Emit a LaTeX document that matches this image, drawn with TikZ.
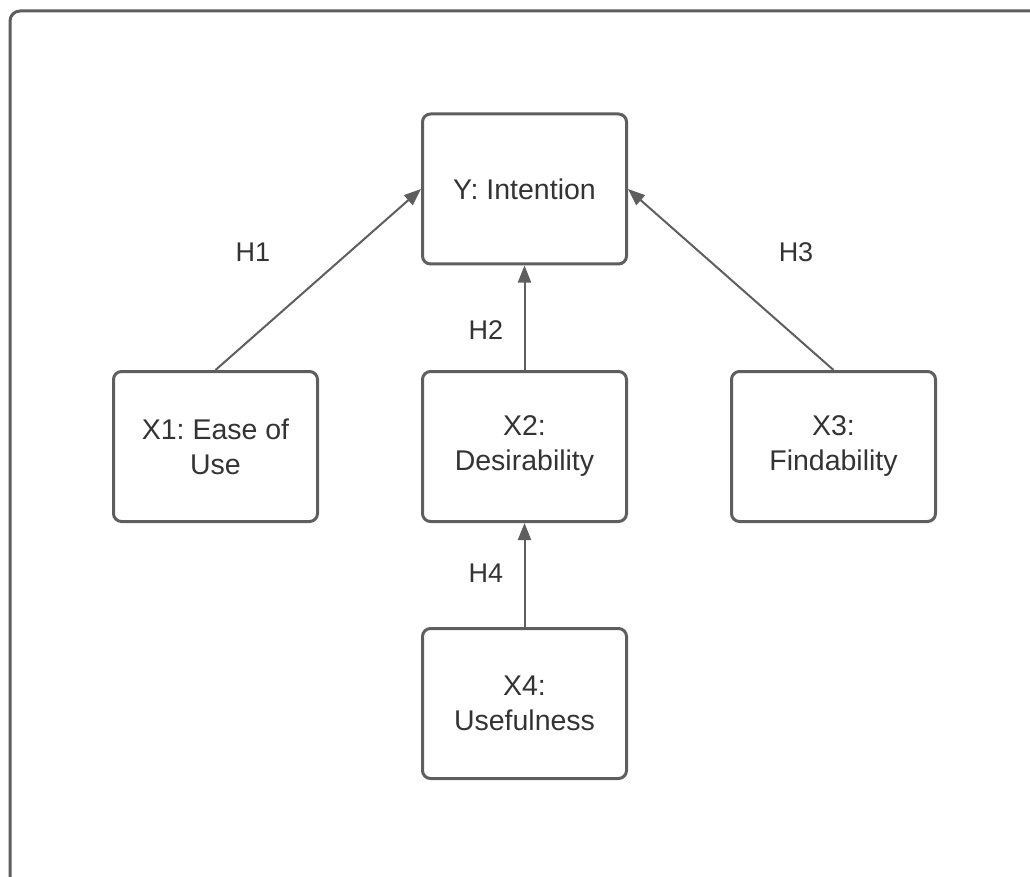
\documentclass[tikz,border=0pt]{standalone}
\usepackage{fontspec}
\setmainfont{Liberation Sans}
\usetikzlibrary{arrows.meta}
\frenchspacing
\definecolor{linegray}{HTML}{5E5E5E}
\definecolor{textgray}{HTML}{333333}
\tikzstyle{factor}=[draw=linegray,line width=3pt,rounded corners=8pt,
                    minimum width=204pt,minimum height=150pt,align=center,
                    text=textgray,font=\fontsize{28.5}{35}\selectfont]
\tikzstyle{hyp}=[text=textgray,font=\fontsize{27}{32}\selectfont]
\tikzstyle{link}=[draw=linegray,line width=2pt,-{Triangle[length=17pt,width=13pt]}]

\begin{document}
\begin{tikzpicture}[x=1pt,y=-1pt]
  \clip (0,0) rectangle (1030,877);
  \draw[linegray,line width=3pt,rounded corners=10pt] (10,1000) -- (10,11) -- (1100,11);

  \node[factor] (y)  at (524.5,189)   {Y: Intention};
  \node[factor] (x1) at (215.5,446.5) {X1: Ease of\\Use};
  \node[factor] (x2) at (524.5,446.5) {X2:\\Desirability};
  \node[factor] (x3) at (833.5,446.5) {X3:\\Findability};
  \node[factor] (x4) at (524.5,703.5) {X4:\\Usefulness};

  \path[link] (x1.north) -- (y.west);
  \path[link] (x2.north) -- (y.south);
  \path[link] (x3.north) -- (y.east);
  \path[link] (x4.north) -- (x2.south);

  \node[hyp] (h1) at (253,252) {H1};
  \node[hyp] (h2) at (486,330) {H2};
  \node[hyp] (h3) at (796,252) {H3};
  \node[hyp] (h4) at (486,573) {H4};
\end{tikzpicture}
\end{document}
